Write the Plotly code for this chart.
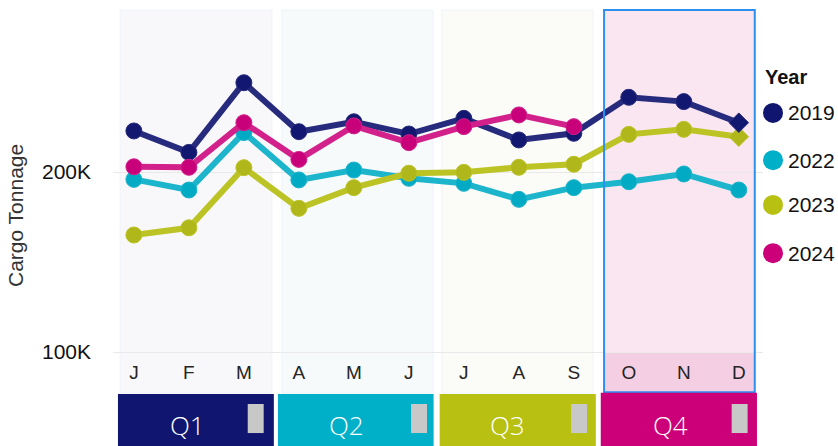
import plotly.graph_objects as go

months = ["J", "F", "M", "A", "M", "J", "J", "A", "S", "O", "N", "D"]
quarters = ["Q1", "Q2", "Q3", "Q4"]
years = ["2019", "2022", "2023", "2024"]

v2019 = [222800, 210900, 249600, 222400, 227900, 221100, 229800, 217800, 221500, 241500, 239100, 227400]
v2022 = [195900, 190000, 221900, 195600, 201100, 196500, 193700, 184800, 191300, 194600, 198900, 190000]
v2023 = [165000, 169000, 202400, 179800, 191300, 199300, 199800, 202600, 204300, 220900, 223700, 219600]
v2024 = [202900, 202600, 227400, 207000, 225600, 216300, 225200, 231700, 225200]

yticks = [100000, 200000]
ytick_text = ["100K", "200K"]

marker_colors = {"2019": "#12176F", "2022": "#02AAC4", "2023": "#AFB71A", "2024": "#C8007A"}
line_colors = {"2019": "#272B7D", "2022": "#1DB5CC", "2023": "#BCC324", "2024": "#D2218B"}
legend_colors = {"2019": "#10166F", "2022": "#00B0C8", "2023": "#B8C012", "2024": "#CC0079"}
quarter_colors = ["#10166F", "#00AFC8", "#B8C012", "#CC0079"]

series = {"2019": v2019, "2022": v2022, "2023": v2023, "2024": v2024}
diamond_last = {"2019": True, "2022": False, "2023": True, "2024": False}

fig = go.Figure()
for yr in ["2022", "2023", "2019", "2024"]:
    vals = series[yr]
    xs = list(range(len(vals)))
    symbols = ["circle"] * len(vals)
    sizes = [16] * len(vals)
    if diamond_last[yr]:
        symbols[-1] = "diamond"
        sizes[-1] = 15
    fig.add_trace(go.Scatter(
        x=xs, y=vals, mode="lines+markers", name=yr,
        line=dict(color=line_colors[yr], width=6),
        marker=dict(color=marker_colors[yr], size=sizes, symbol=symbols, opacity=1),
        showlegend=False,
    ))

# quarter panels (decoration)
panel_x = [(-0.25, 2.51), (2.69, 5.44), (5.6, 8.35), (8.55, 11.29)]
panel_fill = ["#F8F8FA", "#F7FAFB", "#FBFBF8", "#FAE6F1"]
shapes = []
for i, (a, b) in enumerate(panel_x):
    if i < 3:
        shapes.append(dict(type="rect", xref="x", yref="paper", x0=a, x1=b, y0=-0.12, y1=1.0,
                           fillcolor=panel_fill[i], line=dict(color="#EEF3FA", width=1), layer="below"))
    else:
        shapes.append(dict(type="rect", xref="x", yref="paper", x0=a, x1=b, y0=-0.12, y1=1.0,
                           fillcolor=panel_fill[i], line=dict(width=0), layer="below"))
        shapes.append(dict(type="rect", xref="x", yref="paper", x0=a, x1=b, y0=-0.12, y1=0.0,
                           fillcolor="#F4CFE3", line=dict(width=0), layer="below"))
        shapes.append(dict(type="rect", xref="x", yref="paper", x0=a, x1=b, y0=-0.118, y1=1.0,
                           fillcolor="rgba(0,0,0,0)", line=dict(color="#2E8FF0", width=2), layer="above"))

# quarter bars
bar_x = [(-0.29, 2.545), (2.62, 5.45), (5.56, 8.4), (8.49, 11.33)]
label_x = [0.98, 3.87, 6.8, 9.76]
grey_x = [(2.07, 2.36), (5.04, 5.33), (7.95, 8.24), (10.87, 11.16)]
annotations = []
for i, q in enumerate(quarters):
    a, b = bar_x[i]
    top = -0.119 if i == 3 else -0.1228
    shapes.append(dict(type="rect", xref="x", yref="paper", x0=a, x1=b, y0=-0.31, y1=top,
                       fillcolor=quarter_colors[i], line=dict(width=0), layer="above"))
    g0, g1 = grey_x[i]
    shapes.append(dict(type="rect", xref="x", yref="paper", x0=g0, x1=g1, y0=-0.237, y1=-0.152,
                       fillcolor="#C8C8C8", line=dict(width=0), layer="above"))
    annotations.append(dict(x=label_x[i], y=-0.2135, xref="x", yref="paper", text=q, showarrow=False,
                            font=dict(family="Open Sans", size=26, color="white", weight=300),
                            xanchor="center", yanchor="middle"))

# legend (manual)
annotations.append(dict(x=1.0, y=0.804, xref="paper", yref="paper", text="<b>Year</b>", showarrow=False,
                        xanchor="left", yanchor="middle", font=dict(family="Liberation Sans", size=20, color="#111")))
leg_y = [0.699, 0.561, 0.430, 0.289]
for yr, ly in zip(years, leg_y):
    shapes.append(dict(type="circle", xref="paper", yref="paper", xsizemode="pixel", ysizemode="pixel",
                       xanchor=1.0154, yanchor=ly, x0=-10, x1=10, y0=-10, y1=10,
                       fillcolor=legend_colors[yr], line=dict(width=0)))
    annotations.append(dict(x=1.035, y=ly, xref="paper", yref="paper", text=yr, showarrow=False,
                            xanchor="left", yanchor="middle",
                            font=dict(family="Liberation Sans", size=21, color="#111")))

# y axis title
annotations.append(dict(x=-0.149, y=0.398, xref="paper", yref="paper", text="Cargo Tonnage", showarrow=False,
                        textangle=-90, xanchor="center", yanchor="middle",
                        font=dict(family="Liberation Sans", size=21, color="#333")))

fig.update_layout(
    width=838, height=446,
    margin=dict(l=113, r=75, t=10, b=94),
    paper_bgcolor="white", plot_bgcolor="rgba(0,0,0,0)",
    shapes=shapes, annotations=annotations,
    showlegend=False,
)
fig.update_xaxes(
    range=[-0.38, 11.44], tickvals=list(range(len(months))), ticktext=months,
    showgrid=False, zeroline=False, showline=True, linecolor="#E9E9E9", linewidth=1,
    ticks="", ticklabelstandoff=3,
    tickfont=dict(family="Liberation Sans", size=19, color="#252423"),
)
fig.update_yaxes(
    range=[100000, 290000], tickvals=yticks, ticktext=ytick_text,
    showgrid=True, gridcolor="#E9E9E9", gridwidth=1, zeroline=False,
    ticks="", ticklabelstandoff=21,
    tickfont=dict(family="Liberation Sans", size=21, color="#111"),
)

fig.write_html("out.html", config={"displayModeBar": False},
               post_script="document.body.style.margin='0';document.body.style.overflow='hidden';")
